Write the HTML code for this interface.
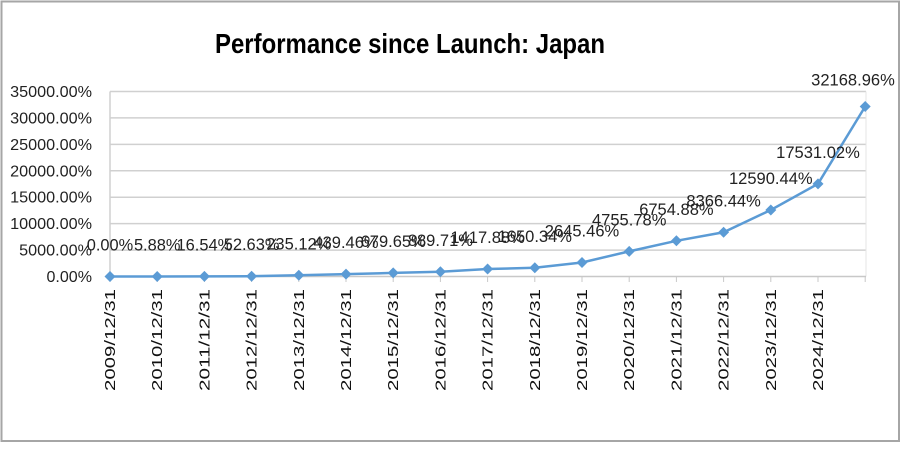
<!DOCTYPE html>
<html><head><meta charset="utf-8"><style>
html,body{margin:0;padding:0;background:#fff;}
svg{display:block;font-family:"Liberation Sans",sans-serif;}
</style></head><body>
<svg id="c" width="906" height="449" xmlns="http://www.w3.org/2000/svg">
<rect x="1.5" y="1.5" width="897.5" height="439.5" fill="#fff" stroke="#a6a6a6" stroke-width="2"/>
<text x="410" y="53" text-anchor="middle" font-size="28" font-weight="bold" fill="#000" textLength="390" lengthAdjust="spacingAndGlyphs">Performance since Launch: Japan</text>
<g id="g"></g>
</svg>
<script>
var g=document.getElementById('g'),h='';
var vals=[0,5.88,16.54,52.63,235.12,439.46,679.65,889.71,1417.88,1650.34,2645.46,4755.78,6754.88,8366.44,12590.44,17531.02,32168.96];
function Y(v){return 276.5-v*185/35000;}
function X(i){return 110+47.2*i;}
for(var k=0;k<=7;k++){var y=Y(k*5000);var t=(k*5000)+'.00%';
 if(k>0)h+='<line x1="110" y1="'+y+'" x2="866" y2="'+y+'" stroke="#d0d0d0" stroke-width="1.5"/>';
 h+='<text x="92" y="'+(y+5.5)+'" text-anchor="end" font-size="16" fill="#222" textLength="'+(t.length*9.1)+'" lengthAdjust="spacingAndGlyphs">'+t+'</text>';}
h+='<line x1="110" y1="91.5" x2="110" y2="276.5" stroke="#d0d0d0" stroke-width="1.5"/>';
h+='<line x1="866" y1="91.5" x2="866" y2="276.5" stroke="#e5e5e5" stroke-width="1"/>';
h+='<line x1="110" y1="276.5" x2="866" y2="276.5" stroke="#c8c8c8" stroke-width="1.5"/>';
for(var i=0;i<17;i++){var x=X(i);
 h+='<line x1="'+x+'" y1="276.5" x2="'+x+'" y2="282" stroke="#c8c8c8" stroke-width="1"/>';
 if(i<16)h+='<text transform="translate('+(x+5)+',289) rotate(-90)" text-anchor="end" font-size="15" fill="#111" textLength="102" lengthAdjust="spacingAndGlyphs">'+(2009+i)+'/12/31</text>';}
var p='';for(var i=0;i<17;i++)p+=(i?'L':'M')+X(i)+','+Y(vals[i]);
h+='<path d="'+p+'" fill="none" stroke="#5b9bd5" stroke-width="2.5"/>';
for(var i=0;i<17;i++){var x=X(i),y=Y(vals[i]);
 h+='<path d="M'+x+','+(y-5.5)+'L'+(x+5.5)+','+y+'L'+x+','+(y+5.5)+'L'+(x-5.5)+','+y+'Z" fill="#5b9bd5"/>';
 var t=vals[i].toFixed(2)+'%';var lx=(i==16)?853:x;var ly=(i==16)?y-21:y-26;
 h+='<text x="'+lx+'" y="'+ly+'" text-anchor="middle" font-size="17" fill="#222" textLength="'+(t.length*9.3)+'" lengthAdjust="spacingAndGlyphs">'+t+'</text>';}
g.innerHTML=h;
</script>
</body></html>
